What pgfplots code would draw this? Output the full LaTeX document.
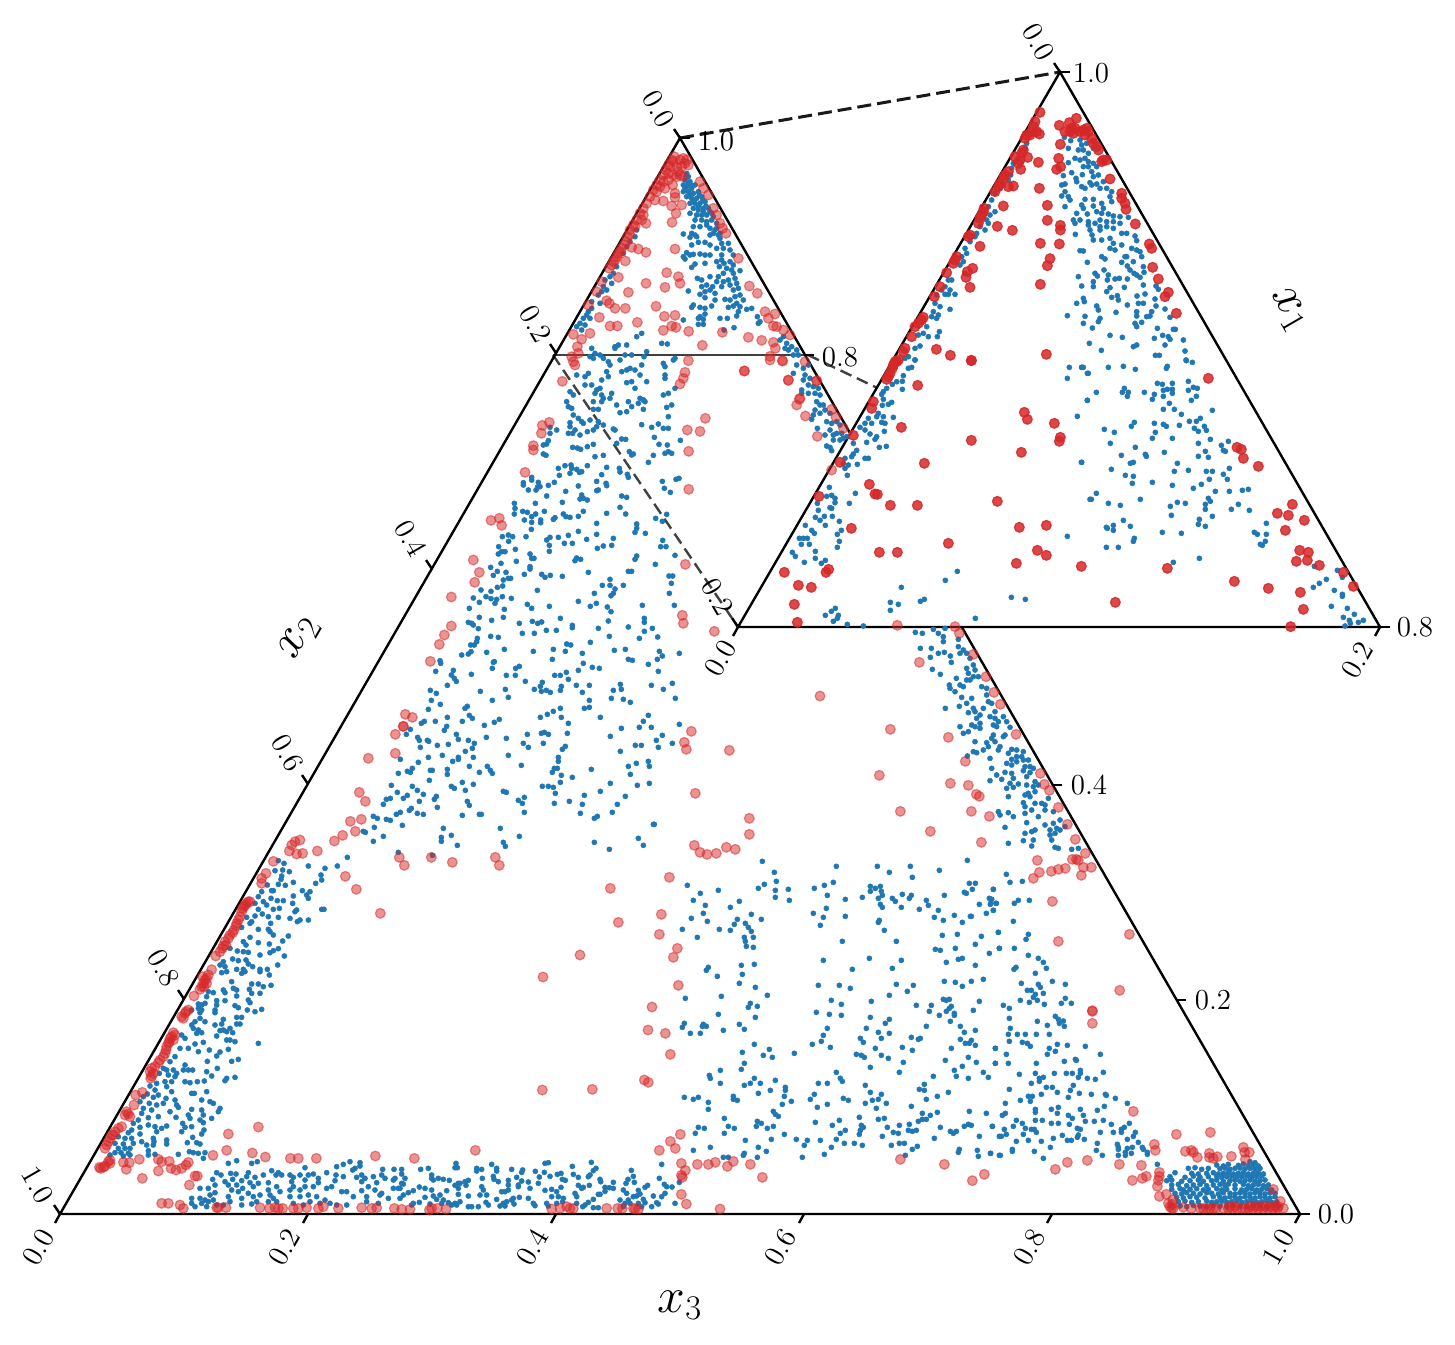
\documentclass[border=0pt]{standalone}
\usepackage{pgfplots}
\pgfplotsset{compat=1.18}
\definecolor{tabblue}{HTML}{1F77B4}
\definecolor{tabred}{HTML}{D62728}
% points are read off 3x crops of the picture: crop origin goes in read={x0}{y0}
\pgfplotsset{
  read/.style 2 args={x filter/.expression={x/3+#1}, y filter/.expression={y/3+#2}},
  bl/.style={only marks, mark=*, mark size=1.3pt, color=tabblue, mark options={line width=.2pt, draw=tabblue, fill=tabblue}},
  rd/.style={only marks, mark=*, mark size=2.45pt, color=tabred, mark options={draw=tabred, fill=tabred, line width=.6pt, fill opacity=.5, draw opacity=.5}},
  rdi/.style={only marks, mark=*, mark size=2.45pt, color=tabred, mark options={draw=tabred, fill=tabred, line width=.6pt, fill opacity=.85, draw opacity=.85}},
}
\newcommand\tk[4]{\draw[black,line width=1.2pt] (axis cs:#1,#2)--(axis cs:#3,#4);}
\newcommand\tl[4]{\node[rotate=#3,font=\fontsize{14.5}{17}\selectfont] at (axis cs:#1,#2) {#4};}
\begin{document}
\begin{tikzpicture}
\useasboundingbox (0,0) rectangle (727.5pt,672pt);
\begin{axis}[at={(0,0)},anchor=south west,scale only axis,width=727.5pt,height=672pt,
  xmin=0,xmax=1455,ymin=0,ymax=1344,y dir=reverse,hide axis,clip=false]

% ---- main triangle, blue
\addplot[bl,read={520}{60}] coordinates {(500,340)(505,350)(495,360)(510,365)(490,375)(500,380)(515,385)(525,375)(490,395)(505,395)(520,400)(535,395)(500,410)(515,415)(530,415)(545,410)(510,430)(525,430)(540,430)(555,425)(520,445)(535,450)(550,445)(565,445)(510,460)(530,465)(545,465)(560,465)(575,460)(525,480)(545,480)(560,485)(575,480)(590,490)(520,500)(540,500)(570,505)(585,510)(595,525)(490,522)(515,520)(525,525)(510,532)(530,530)(570,525)(600,535)(605,550)(535,547)(555,547)(515,555)(570,555)(610,565)(625,550)(590,565)(490,590)(500,578)(510,585)(520,583)(540,582)(555,585)(570,585)(630,570)(640,585)(605,585)(495,597)(525,612)(515,622)(555,610)(590,605)(605,600)(612,610)(630,605)(640,615)(598,620)(620,625)(635,630)(660,632)(610,640)(595,650)(570,650)(640,640)(532,655)(545,660)(590,665)(610,665)(625,660)(645,655)(650,670)(630,675)(605,680)(545,680)(560,675)(578,680)(505,693)(540,703)(555,695)(570,690)(585,700)(640,690)(655,685)(555,713)(585,720)(615,718)(630,720)(645,710)(660,705)(670,720)(650,730)(520,735)(515,742)(540,742)(555,745)(575,738)(625,742)(640,738)(660,740)(680,748)(695,745)(655,755)(650,768)(540,770)(555,762)(535,775)(550,778)(600,775)(622,775)(490,780)(535,793)(550,793)(712,770)(720,785)(642,803)(612,810)(365,820)(350,830)(715,790)
(498,350)(505,370)(512,375)(495,385)(510,405)(522,422)(538,405)(548,420)(535,440)(558,438)(570,455)(580,470)(550,455)(560,495)(590,505)(580,520)(600,520)
(350,510)(345,530)(330,545)(320,560)(310,580)(290,620)(280,640)(270,650)(255,660)(275,670)(250,680)(260,690)(245,695)(235,705)(215,725)(205,755)(215,745)(200,765)(190,775)(210,775)(180,790)(195,795)(170,800)(185,810)(240,730)
(285,860)(295,855)(320,855)(285,865)(215,865)(225,880)(240,885)(250,895)(210,890)(315,885)(335,885)(380,875)(372,890)(425,850)(442,852)(220,895)(265,905)(300,900)(270,915)(365,915)(430,910)(465,895)(460,900)(435,920)(330,925)(305,935)(320,930)(345,930)(360,945)(260,935)(205,940)(170,945)(195,950)(435,945)(435,955)(265,950)(245,960)(320,968)(335,965)(380,965)(215,975)(195,975)(150,995)(160,1005)(240,985)(230,990)(225,1000)(245,1005)(250,1015)(275,1000)(345,985)(430,1005)(445,1000)(465,985)(270,1015)(360,1015)(370,1020)
(780,840)(790,830)(800,850)(815,860)(830,870)(805,870)(795,865)(820,885)(835,885)};
\addplot[bl,read={730}{360}] coordinates {(190,40)(200,15)(220,25)(235,15)(225,45)(240,55)(220,60)(235,75)(250,80)(265,85)(215,90)(215,100)(235,100)(255,100)(270,105)(260,125)(280,135)(270,135)(255,150)(285,150)(250,165)(270,160)(300,160)(245,178)(290,185)(305,190)(320,185)(330,195)(262,205)(300,210)(285,225)(310,225)(320,220)(335,220)(350,230)(310,240)(330,240)(340,235)(290,258)(300,262)(305,272)};
\addplot[bl,read={380}{350}] coordinates {(560,155)(640,155)(665,155)(710,165)(745,155)(755,170)(775,160)(790,150)(795,155)(860,172)(875,165)(565,170)(575,175)(640,178)(655,178)(720,188)(740,185)(790,178)(580,195)(595,205)(605,215)(630,210)(610,220)(570,218)(570,230)(655,215)(650,230)(670,225)(785,224)(815,232)(835,222)(850,235)(865,235)(865,200)(700,237)(705,240)(530,240)(510,232)(565,250)(578,250)(585,240)(600,255)(622,245)(640,240)(510,250)(823,262)(901,271)(725,267)(737,268)(710,280)(505,272)(500,282)(490,285)(837,283)(862,285)(578,292)(592,294)(602,298)(622,290)(640,283)(748,305)(755,315)(760,312)(865,305)(855,310)(875,310)(820,316)(490,312)(498,316)(645,320)(670,316)(805,337)
(535,355)(555,347)(573,345)(575,355)(590,358)(605,365)(598,367)(622,347)(680,352)(718,355)(720,366)(742,373)(745,382)(538,376)(570,370)(665,374)(455,382)(455,390)(475,397)(430,398)(430,405)(505,406)(523,397)(595,408)(650,394)(678,400)(680,407)(847,394)(888,388)(897,385)(473,411)(480,410)(468,420)(445,420)(557,424)(650,422)(655,420)(853,415)(871,427)(500,438)(605,435)(610,445)(600,447)(622,450)(725,438)(740,442)(403,460)(405,475)(466,460)(547,457)(720,472)(428,484)(442,487)(403,492)(493,484)(610,484)(680,490)(737,492)(467,492)(455,500)(550,492)(558,500)(570,502)(595,499)(525,503)(520,508)(433,510)(455,517)(482,510)(482,518)(650,520)(827,505)(847,514)(860,493)(770,522)(770,535)(765,547)(796,550)(454,538)(595,544)(438,560)(367,560)(385,555)(398,560)(386,574)(510,562)(500,570)(535,562)(565,556)(650,553)(700,565)(620,568)(553,580)(577,580)(848,571)(356,590)(508,586)(670,588)(695,586)(652,595)(842,590)(858,590)(406,598)(508,604)(355,612)(365,605)(375,605)(450,612)(455,625)(462,625)(885,616)(770,618)(765,628)(590,624)(602,628)(585,632)(409,634)(363,640)(826,643)(332,652)(450,650)(450,657)(352,664)(378,667)(340,676)(745,664)(755,664)(625,667)(433,673)(485,673)(495,682)(511,676)(547,679)(867,678)(878,678)(385,685)(392,685)(370,690)(690,688)(874,700)(667,706)(690,706)(730,706)(368,708)(352,712)(705,717)(472,721)(303,720)(333,724)(700,730)(693,737)(643,730)(868,730)(280,744)(318,740)(333,746)(350,748)(345,760)(367,740)(394,745)(298,757)(595,754)(442,763)(455,775)(508,769)(631,769)(649,760)(682,771)(787,766)(883,766)(268,775)(373,778)(693,785)(298,802)(370,802)(541,805)(793,805)(793,817)(685,813)(265,817)(275,820)(280,825)(335,811)(418,820)(457,814)(473,820)(485,816)(577,826)(577,833)(745,831)(655,835)(817,835)(295,836)(499,841)(529,841)(793,844)(427,850)(463,850)(688,859)(833,861)(332,859)(355,862)(292,865)(290,875)(283,885)(272,885)(631,877)(778,865)(560,882)(572,885)};
\addplot[bl,read={340}{640}] coordinates {(365,45)(385,42)(393,35)(440,37)(300,62)(302,70)(493,28)(580,34)(640,28)(676,34)(727,40)(823,31)(856,28)(958,34)(1018,40)(952,58)(967,48)(637,58)(865,58)(877,61)(463,65)(460,67)(730,70)(925,73)(340,91)(287,94)(457,85)(527,85)(538,79)(757,82)(778,85)(715,91)(679,97)(955,94)(334,105)(394,103)(499,106)(526,106)(644,106)(661,106)(343,115)(349,124)(556,124)(685,118)(322,136)(607,127)(601,139)(664,139)(709,136)(748,136)(841,133)(934,136)(997,130)(271,151)(289,160)(421,154)(496,148)(583,148)(604,154)(619,151)(631,157)(661,151)(727,157)(820,151)(844,148)(970,148)(505,172)(274,181)(457,181)(748,181)(814,175)(850,178)(871,187)(1006,175)(301,193)(265,208)(375,205)(382,199)(661,205)(640,214)(622,223)(733,205)(748,202)(925,226)(601,232)(664,232)(781,232)(322,232)(388,226)(397,235)(478,238)(463,247)(685,250)(244,250)(253,244)(286,244)(367,244)(910,244)(433,256)(320,259)(313,271)(898,262)(934,262)(844,265)(1018,253)(211,268)(199,283)(349,283)(562,283)(604,280)(613,277)(625,283)(682,280)(811,289)(967,286)(233,292)(238,301)(262,301)(266,304)(355,298)(385,301)(439,292)(499,295)(949,301)(403,310)(292,316)(325,313)(550,310)(610,310)(886,316)(904,316)(997,310)(241,322)(397,325)(565,322)(676,319)(667,328)(955,322)(376,334)(841,334)(307,346)(265,352)(400,352)(505,346)(355,352)(355,358)(181,358)(338,364)(655,352)(655,364)(235,367)(889,370)(925,364)(388,379)(544,376)(442,379)(865,379)(928,379)(754,388)(217,385)(271,391)(277,391)(322,388)(202,394)(211,397)(175,400)(418,397)(451,391)(457,400)(322,403)(637,397)(643,385)(652,385)(871,403)(664,406)(697,412)(268,421)(367,427)(661,427)(811,430)(928,430)(154,436)(217,439)(334,439)(343,445)(400,433)(892,436)(607,439)(625,439)(640,442)(232,451)(376,451)(172,457)(250,463)(490,454)(499,457)(781,454)(646,460)(202,466)(190,475)(289,469)(283,478)(553,472)(535,481)(733,466)(856,469)(151,475)(139,478)(238,484)(382,484)(130,493)(388,496)(547,490)(643,490)(688,484)(727,493)(832,493)(292,502)(214,505)(208,511)(181,517)(169,523)(232,520)(250,523)(367,526)(418,523)(424,523)(553,517)(721,520)(817,517)(100,529)(112,535)(139,538)(151,541)(772,529)(763,535)(187,556)(103,562)(940,553)(943,553)(310,565)(481,565)(70,574)(76,577)(130,589)(334,586)(304,592)(538,589)(895,595)(100,604)(304,604)(490,607)(763,607)(352,616)(496,619)(910,616)(808,628)(175,637)(22,652)(277,646)};
\addplot[bl,read={60}{840}] coordinates {(655,62)(672,70)(645,92)(668,90)(688,95)(745,78)(832,78)(795,85)(783,105)(785,120)(767,130)(665,108)(663,118)(700,127)(622,135)(655,133)(676,136)(640,152)(635,152)(605,155)(595,170)(727,152)(750,155)(740,165)(700,168)(745,175)(633,175)(652,182)(670,182)(610,185)(698,190)(585,190)(620,195)(640,208)(658,205)(595,208)(785,208)(792,208)(710,210)(705,215)(607,222)(655,232)(625,230)(585,228)(690,235)(560,232)(745,240)(720,240)(712,245)(570,250)(575,245)(632,250)(545,262)(595,268)(625,268)(630,275)(640,285)(685,288)(570,292)(550,305)(558,315)(595,308)(628,312)(668,303)(510,325)(655,326)(640,332)(630,338)(532,333)(550,335)(565,337)(600,345)(673,348)(535,362)(518,357)(558,360)(565,372)(578,380)(653,375)(490,365)(480,375)(495,380)(530,388)(550,388)(600,388)(622,388)(485,398)(500,395)(545,400)(555,395)(600,395)(628,405)(515,425)(575,432)(595,432)(610,440)(633,436)(490,450)(495,458)(520,445)(530,450)(568,448)(575,460)(600,460)(445,455)(460,458)(440,470)(470,482)(495,482)(530,468)(415,492)(425,495)(435,490)(565,480)(570,488)(470,495)(525,497)(535,503)(415,505)(425,510)(465,510)(465,518)(562,510)(585,515)(605,508)(395,510)(420,518)(530,532)(545,532)(435,545)(420,535)(405,545)(395,555)(490,538)(530,552)(540,552)(465,555)(485,552)(400,565)(415,570)(510,565)(490,570)(480,572)(500,575)(518,578)(410,580)(425,578)(470,588)(365,585)(375,595)(500,600)(510,600)(525,605)(430,607)(405,612)(595,610)(360,625)(385,625)(448,630)(505,628)(415,635)(480,636)(470,648)(345,650)(330,665)(375,675)(385,690)(398,690)(370,690)(442,664)(515,664)(535,658)(310,685)(320,690)(340,690)(350,700)(298,700)(325,705)(345,710)(440,695)(472,685)(375,725)(390,728)(412,725)(433,723)(455,708)(500,715)(525,712)(495,722)(290,730)(315,725)(335,725)(270,738)(320,740)(335,755)(440,755)(285,750)(262,762)(295,765)(395,760)(403,760)(250,770)(280,772)(318,775)(345,780)(425,780)(450,785)(460,790)(240,785)(268,790)(290,795)(310,790)(350,795)(355,802)(395,808)(480,805)(475,815)(425,810)(250,805)(275,810)(330,815)(430,825)(245,820)(295,830)(265,833)(385,825)(390,835)(348,832)(455,835)(420,840)(430,848)(235,840)(220,850)(265,855)(285,860)(320,858)(305,865)(368,850)(375,862)(395,860)(240,862)(215,870)(290,875)(365,875)(432,870)(205,878)(240,882)(425,882)(175,890)(195,895)(215,895)(280,895)(398,892)(320,900)(165,910)(190,912)(220,910)(245,905)(282,905)(382,908)(410,908)(420,912)(320,912)(175,925)(195,925)(210,925)(260,915)(280,915)(165,938)(183,938)(205,940)(265,932)(388,935)(400,938)(415,940)(435,938)(150,945)(190,948)(210,945)(355,943)(265,945)(285,943)(430,955)
(530,962)(505,970)(575,970)(592,965)(470,998)(655,998)(635,992)(735,983)(830,980)(850,973)(870,965)(900,968)(900,978)(885,985)(878,990)(968,988)(1002,988)(512,1000)(528,1002)(565,998)(458,1018)(483,1005)(495,1025)(420,1045)(445,1045)(518,1018)(545,1022)(560,1010)(585,1012)(610,1005)(648,1005)(665,1005)(690,1005)(700,1012)(720,1005)(745,1005)(760,1002)(800,998)(775,1015)(828,1005)(850,1010)(890,1012)(905,1005)(915,1015)(940,1010)(965,1005)(1005,1015)(465,1035)(505,1035)(530,1035)(570,1028)(595,1030)(625,1028)(695,1025)(735,1020)(775,1028)(825,1022)(905,1025)(950,1028)(975,1015)(1000,1020)(395,1075)(395,1090)(405,1100)(420,1075)(425,1090)(435,1080)(450,1065)(445,1085)(440,1100)(460,1080)(465,1058)(470,1095)(490,1095)(510,1085)(505,1070)(515,1050)(535,1055)(548,1045)(545,1075)(565,1060)(580,1040)(580,1070)(590,1085)(600,1065)(625,1050)(630,1065)(650,1040)(660,1055)(650,1085)(640,1075)(690,1050)(700,1040)(720,1050)(735,1040)(760,1040)(690,1070)(700,1090)(720,1070)(745,1065)(770,1070)(795,1080)(730,1095)(800,1045)(815,1040)(845,1055)(860,1055)(880,1070)(810,1090)(860,1095)(830,1095)(920,1070)(905,1052)(925,1040)(945,1050)(965,1060)(985,1075)(955,1090)(960,1065)(920,1085)(1000,1045)(1015,1045)(545,1095)(575,1092)(625,1085)(750,1085)(780,1090)};
\addplot[bl,read={380}{1040}] coordinates {(65,388)(65,402)(122,388)(145,385)(228,370)(225,383)(232,383)(290,385)(290,393)(305,388)(335,373)(350,385)(350,393)(395,388)(428,390)(425,397)(466,394)(495,370)(505,368)(493,397)(478,411)(510,409)(532,403)(543,400)(577,379)(580,403)(595,412)(634,367)(648,385)(640,392)(625,410)(630,405)(754,391)(760,409)(744,418)(738,430)(763,427)(660,418)(662,425)(838,415)(898,427)(853,433)(860,440)(876,441)(803,436)(795,442)(700,427)(675,442)(688,443)(700,445)(75,415)(155,405)(155,415)(175,415)(190,418)(208,421)(160,420)(235,430)(240,430)(265,421)(255,425)(307,415)(340,409)(342,418)(355,425)(385,421)(410,412)(425,423)(445,426)(415,435)(415,440)(475,430)(543,442)(556,421)(547,418)(595,436)(610,442)(628,436)(605,445)(65,430)(70,432)(60,445)(118,441)(135,445)(155,450)(100,452)(85,458)(225,436)(235,445)(258,436)(305,440)(310,450)(385,435)(385,450)(365,455)(450,445)(495,451)(515,448)(530,455)(585,460)(660,463)(675,454)(730,450)(740,460)(775,451)(780,462)(855,460)(845,470)(885,490)(820,468)(70,465)(60,475)(135,472)(160,468)(180,465)(200,452)(235,463)(265,468)(300,465)(320,465)(350,478)(375,455)(400,475)(418,472)(445,475)(500,490)(515,470)(535,470)(550,475)(590,470)(640,478)(655,463)(720,480)(760,470)(770,468)(790,478)(830,488)(835,492)(100,490)(118,487)(170,478)(190,480)(185,490)(205,488)(225,490)(240,485)(318,487)(325,495)(380,485)(370,490)(402,492)(460,490)(465,497)(395,480)(530,490)(548,485)(590,490)(625,487)(615,495)(735,490)(750,490)(775,490)(795,488)(815,500)(95,495)(150,492)(215,495)(230,495)(265,500)(275,500)(295,500)(360,498)(375,498)(505,498)(608,500)(640,503)(655,503)(730,500)(785,500)(745,480)};
\addplot[bl,read={660}{840}] coordinates {(307,64)(343,97)(349,124)(313,133)(295,145)(346,151)(385,148)(346,172)(388,181)(82,136)(121,160)(175,151)(100,181)(136,196)(211,202)(238,184)(130,220)(94,235)(142,244)(232,238)(274,223)(304,238)(223,253)(256,250)(265,262)(274,274)(67,268)(178,268)(211,271)(112,292)(253,292)(280,292)(256,304)(259,319)(280,322)(529,79)(652,79)(751,79)(688,97)(757,112)(838,91)(922,61)(520,127)(493,136)(463,145)(631,139)(661,139)(646,145)(631,154)(664,154)(502,166)(667,166)(556,178)(607,172)(655,175)(697,175)(706,184)(727,163)(748,175)(754,166)(799,181)(805,196)(853,166)(928,130)(946,130)(937,148)(913,157)(919,160)(1000,148)(661,193)(667,202)(724,202)(778,208)(835,211)(958,193)(988,175)(994,178)(991,193)(1009,190)(499,205)(460,220)(490,232)(556,229)(823,232)(883,226)(979,220)(1000,211)(934,229)(931,229)(850,241)(907,247)(658,241)(655,247)(481,256)(673,271)(1015,277)(847,286)(892,283)(964,289)(547,304)(709,304)(946,313)(826,328)(841,331)(886,325)(988,340)(1018,325)(490,361)(628,355)(724,361)(895,358)(907,355)(859,367)(946,376)(145,382)(139,391)(244,376)(283,373)(577,388)(697,385)(172,409)(247,403)(238,430)(286,442)(475,436)(538,436)(571,445)(709,433)(760,436)(853,424)(886,427)(907,439)(934,424)(970,418)(742,454)(184,469)(322,466)(76,475)(688,466)(514,481)(634,484)(544,493)(850,478)(859,481)(868,478)(958,484)(271,490)(292,499)(265,502)(769,496)(814,496)(874,499)(868,505)(808,514)(859,514)(940,511)(883,520)(883,526)(175,523)(469,517)(508,523)(544,526)(631,532)(286,532)(838,526)(688,538)(676,550)(871,544)(73,550)(67,562)(130,553)(127,559)(139,559)(238,553)(253,568)(190,571)(502,565)(619,565)(799,559)(901,559)(91,580)(121,580)(490,586)(655,577)(688,580)(913,577)(946,571)(601,595)(664,595)(754,592)(775,598)(781,595)(901,598)(934,601)(484,604)(610,607)(916,610)(928,610)(946,616)(283,613)(457,613)(511,622)(646,625)(727,622)(874,625)(1006,625)(328,628)(247,637)(403,640)(757,631)(310,646)(337,652)(589,643)(604,646)(613,652)(664,646)(685,655)(925,652)(856,661)(253,670)(730,667)(949,667)(1006,670)(244,688)(181,691)(631,682)(907,679)(883,691)(718,697)(970,697)(529,697)(148,706)(151,715)(889,709)(820,709)(985,712)(925,715)(283,715)(346,721)(541,715)(547,724)(181,730)(271,730)(301,730)(253,736)(475,730)(502,730)(616,736)(793,733)(376,742)(331,751)(376,751)(631,757)(778,748)(793,751)(865,757)(295,760)(463,763)(664,763)(373,769)(73,772)(115,772)(100,778)(220,769)(220,778)(232,781)(451,778)(550,775)(565,781)(655,778)(637,781)(799,778)(832,769)(145,787)(394,784)(367,793)(502,793)(616,790)(679,790)(472,802)(145,808)(649,805)(754,799)(340,814)(346,823)(355,829)(787,820)(832,817)(928,814)(979,820)(193,835)(598,832)(673,835)(655,838)(811,826)(799,838)(787,838)(775,844)(292,844)(304,850)(538,841)(466,847)(115,862)(133,865)(205,859)(223,865)(289,859)(322,865)(340,859)(517,856)(604,856)(610,862)(748,853)(718,856)(682,862)(841,862)(925,853)(913,859)(934,856)(997,859)(556,871)(601,871)(700,877)(745,871)(757,874)(769,871)(715,880)(871,874)(889,874)(880,880)(106,880)(193,880)(373,883)(541,880)(598,883)(667,889)(958,889)(1018,889)(256,901)(334,898)(409,898)(442,901)(481,901)(529,898)(823,895)(433,916)(553,910)(583,910)(607,916)(694,916)(718,910)(733,910)(151,922)(295,922)(514,922)(772,919)(757,928)(100,931)(319,934)(898,928)(895,937)(952,931)(493,943)(991,940)(1018,946)(736,946)(250,946)(253,940)(190,952)(205,952)(292,952)(427,952)(955,949)(5,973)};
\addplot[bl,read={860}{620}] coordinates {(166,37)(187,40)(220,28)(235,40)(250,50)(250,65)(295,58)(255,25)(295,80)(181,85)(214,85)(211,112)(235,100)(253,97)(271,108)(274,127)(300,100)(310,90)(320,100)(330,115)(217,148)(241,163)(320,145)(340,135)(345,150)(325,160)(355,170)(340,170)(289,175)(320,180)(330,180)(268,195)(270,205)(300,195)(285,215)(310,200)(365,200)(380,205)(380,225)(305,232)(335,235)(320,250)(385,245)(395,250)(298,259)(256,265)(340,265)(345,275)(370,265)(325,278)(405,275)(360,285)(390,290)(405,295)(430,290)(350,295)(415,305)(440,305)(300,320)(335,315)(345,320)(360,325)(400,315)(410,320)(450,322)(310,340)(325,335)(360,310)(435,345)(400,345)(395,355)(345,365)(380,368)(405,365)(430,350)(420,380)(385,380)(340,395)(350,398)(370,390)(415,390)(455,388)(470,390)(490,395)(322,408)(445,400)(470,410)(485,410)(390,415)(455,418)(490,420)(505,420)(440,430)(455,435)(470,425)(395,445)(495,440)(510,440)(520,445)(435,457)(455,460)(490,452)(510,458)(410,465)(425,478)(390,482)(460,475)(500,470)(525,485)(535,495)(450,490)(475,492)(460,502)(440,505)(500,495)(520,500)(505,520)(525,515)(445,530)(495,525)(510,530)(565,535)(490,548)(495,560)(525,550)(545,550)(515,570)(555,555)(415,575)(420,585)(445,578)(460,590)(495,580)(535,590)(555,570)(580,575)(500,608)(435,622)(555,615)(580,610)(600,600)(590,625)(570,630)(495,640)(515,635)(525,630)(585,640)(600,630)(615,620)(570,645)(575,660)(490,662)(520,660)(445,670)(585,682)(595,685)(515,678)(635,688)(655,685)(439,763)};
\addplot[bl,read={990}{840}] coordinates {(60,127)(97,124)(10,148)(5,178)(2,190)(18,190)(73,190)(85,181)(118,181)(10,211)(70,244)(25,277)(115,283)(108,298)(28,325)(73,325)(115,346)(145,355)(160,367)(78,382)(72,388)(169,385)(136,400)(187,424)(94,430)(145,433)(226,433)(151,442)(112,451)(124,451)(160,460)(136,463)(130,472)(226,475)(91,481)(118,487)(142,481)(163,493)(214,490)(244,490)(40,496)(58,505)(196,529)(58,535)(142,544)(205,538)(220,543)(208,550)(223,559)(172,556)(61,565)(55,583)(82,583)(106,583)(139,583)(178,583)(58,604)(97,607)(112,610)(121,619)(202,613)(232,616)(286,619)(16,625)(178,625)(196,634)(172,643)(49,643)(331,643)(16,670)(55,670)(139,670)(223,664)(256,658)(259,661)(136,700)(193,700)(229,700)(247,700)(271,691)(271,700)(88,703)(265,712)(340,697)(160,712)(148,715)(292,715)(316,718)(148,724)(124,730)(250,736)(169,742)(187,742)(58,748)(241,751)(202,757)(268,760)(304,763)(346,763)(349,766)(154,763)(127,769)(115,769)(235,772)(376,775)(91,781)(121,784)(46,790)(412,790)(136,808)(184,808)(205,802)(271,808)(343,799)(322,811)(202,820)(136,817)(46,820)(37,826)(235,826)(280,826)(247,835)(136,841)(79,841)(157,841)(286,844)(313,844)(340,841)(97,850)(184,850)(205,850)(238,853)(364,853)(418,850)(7,859)(70,859)(43,868)(106,865)(124,868)(133,868)(262,865)(271,868)(403,862)(394,868)(139,877)(331,877)(370,877)(394,877)(436,877)(100,883)(49,883)(34,889)(217,886)(265,885)(430,889)(190,895)(262,892)(283,898)(232,901)(244,901)(115,901)(79,904)(154,904)(412,898)(445,907)(322,910)(382,913)(181,922)(67,928)(67,934)(133,934)(319,931)(385,922)(412,925)(427,922)(457,922)(460,928)(472,937)(385,928)(406,937)(424,940)(2,940)(31,946)(337,946)(385,946)(406,946)(472,943)(160,955)(502,973)
(780,965)(795,968)(680,975)(700,978)(715,973)(745,976)(760,972)(775,978)(790,975)(805,978)(595,985)(615,983)(635,988)(655,985)(690,986)(705,984)(720,988)(735,985)(750,984)(765,987)(780,985)(795,988)(810,985)(555,998)(605,1000)(625,1002)(650,1000)(670,998)(685,1002)(700,1000)(715,997)(730,1002)(745,1000)(760,998)(775,1002)(790,1000)(805,998)(820,1002)(540,1010)(585,1012)(610,1008)(630,1012)(655,1010)(680,1008)(695,1012)(710,1010)(725,1008)(740,1012)(755,1010)(770,1008)(785,1012)(800,1010)(815,1008)(530,1022)(545,1020)(575,1024)(600,1022)(625,1020)(640,1024)(665,1022)(680,1020)(700,1024)(720,1022)(735,1020)(750,1024)(765,1022)(780,1020)(795,1024)(810,1022)(825,1020)(545,1035)(565,1033)(590,1037)(610,1035)(630,1033)(650,1037)(670,1035)(690,1033)(705,1037)(715,1032)(735,1035)(760,1033)(775,1037)(790,1035)(805,1033)(820,1037)(835,1035)(545,1048)(570,1046)(580,1050)(600,1048)(620,1046)(640,1050)(655,1048)(680,1046)(695,1050)(710,1048)(735,1046)(755,1050)(770,1048)(785,1046)(800,1050)(815,1048)(830,1046)(845,1050)(555,1060)(575,1062)(590,1058)(610,1060)(630,1062)(650,1058)(665,1060)(685,1062)(700,1058)(720,1060)(735,1062)(750,1058)(765,1060)(780,1062)(795,1058)(810,1060)(825,1062)(840,1058)(855,1060)(560,1072)(580,1074)(600,1070)(620,1072)(645,1074)(670,1070)(690,1072)(705,1074)(720,1070)(735,1072)(750,1074)(765,1070)(780,1072)(795,1074)(810,1070)(825,1072)(840,1074)(855,1070)(565,1085)(585,1083)(605,1087)(625,1085)(650,1083)(665,1087)(680,1085)(695,1083)(710,1087)(725,1085)(740,1083)(755,1087)(770,1085)(785,1083)(800,1087)(815,1085)(830,1083)(845,1087)(860,1085)(570,1098)(590,1100)(610,1096)(630,1098)(650,1100)(670,1096)(690,1098)(710,1100)(730,1096)(750,1098)(770,1100)(790,1096)(810,1098)(830,1100)(850,1096)(865,1098)};

% ---- main triangle, red
\addplot[rd,read={520}{60}] coordinates {(463,290)(490,295)(500,300)(460,305)(450,320)(485,320)(445,340)(480,345)(490,350)(430,365)(458,375)(420,380)(410,395)(465,400)(540,365)(550,385)(565,405)(430,423)(405,420)(465,412)(455,438)(485,435)(580,445)(590,465)(370,465)(365,480)(378,490)(468,460)(456,487)(600,490)(608,505)(618,520)(345,500)(330,525)(318,545)(300,575)(290,590)(280,605)(335,562)(355,567)(378,577)(465,567)(316,603)(655,595)(268,625)(440,638)(475,650)(480,670)(295,652)(378,670)(435,682)(245,665)(325,697)(230,695)(688,678)(712,700)(260,722)(268,730)(205,735)(285,745)(316,745)(408,739)(735,755)(745,775)(765,762)(433,769)(465,766)(238,772)(352,787)(270,798)(292,798)(455,798)(468,802)(430,811)(506,814)(607,817)(760,798)(770,800)(790,810)(210,820)(160,823)(685,832)(725,841)(185,838)(172,860)(547,856)(760,847)(766,865)(810,825)(175,880)(155,890)(160,905)(165,915)(750,889)(787,902)(505,902)(855,905)(673,933)(495,937)(490,955)(805,961)(127,964)(480,972)(890,963)(840,1015)
(455,300)(445,315)(437,330)(430,345)(420,360)(410,375)(400,390)(390,410)(380,430)(370,445)(360,460)(350,480)(340,495)(330,510)(322,530)(312,555)(305,565)(295,580)(285,600)(275,615)(470,320)(475,335)(470,350)(480,300)(495,310)(505,315)(460,345)(445,360)(435,385)};
\addplot[rd,read={730}{360}] coordinates {(43,33)(120,0)(158,3)(175,60)(208,118)(200,135)(226,168)(262,229)(260,62)(305,148)(318,172)(340,205)(305,330)};
\addplot[rd,read={380}{350}] coordinates {(976,205)(922,240)(960,244)(926,304)(508,217)(487,226)(484,250)(460,287)(460,300)(435,367)(926,418)(333,511)(358,505)(365,526)(280,630)(298,667)(284,697)(916,643)(214,741)(907,796)(910,820)(214,828)(193,855)(178,883)(1003,844)};
\addplot[rd,read={340}{640}] coordinates {(271,64)(196,223)(217,232)(190,259)(190,259)(166,283)(166,340)(85,355)(1054,274)(1033,307)(1039,328)(1168,331)(1066,460)(58,457)(76,484)(64,538)(31,544)(46,574)(8,586)(1228,535)(1228,583)(1063,616)(1080,637)(1101,643)(1129,640)(1159,622)(1186,628)(178,652)(193,676)(274,652)(337,667)(466,652)(478,676)(988,712)(16,709)(49,748)(811,745)(121,820)(964,823)(835,847)(958,883)};
\addplot[rd,read={60}{840}] coordinates {(705,5)(695,15)(720,0)(823,3)(688,33)(710,42)(728,40)(772,33)(640,64)(618,100)(605,115)(605,130)(565,185)(555,195)(548,205)(540,230)(530,250)(522,270)(510,285)(495,305)(487,325)(467,348)(455,389)(440,415)(430,430)(425,440)(402,468)(378,515)(370,535)(340,578)(330,595)(325,610)(315,640)(300,660)(275,685)(275,708)(227,765)(247,757)(222,795)(205,822)(185,860)(165,875)(150,895)(140,915)(150,960)(150,970)(135,978)(118,982)(190,967)(208,968)(199,988)(238,958)(295,958)(305,965)(328,964)(333,985)(348,990)(365,985)(385,967)(378,975)(295,993)(247,1015)(595,861)(505,882)(500,931)(459,946)(577,939)(616,951)(691,955)(715,955)(769,955)(946,948)(405,1008)(412,1008)(388,1035)(305,1090)(325,1090)(360,1095)(370,1105)(475,1103)(470,1103)(498,1103)(600,1103)(628,1105)(645,1103)(655,1105)(668,1105)(700,1105)(715,1105)(740,1103)(775,1105)(790,1100)(835,1105)(905,1103)(935,1105)(950,1103)
(560,190)(570,185)(552,200)(545,215)(535,240)(528,258)(518,278)(505,295)(498,315)(490,318)(480,335)(445,405)(435,420)(432,440)(420,448)(440,430)(428,410)(375,520)(385,510)(365,530)(345,585)(335,590)(340,600)(328,605)(320,620)(318,630)(310,650)(295,668)(285,680)(270,695)(280,700)(272,715)(200,815)(195,825)(210,830)(175,865)(160,885)(145,905)(135,925)(155,885)(145,965)(130,982)(122,985)};
\addplot[rd,read={380}{1040}] coordinates {(103,355)(286,331)(487,150)(637,148)(793,120)(805,127)(901,283)(871,304)(886,325)(838,331)(904,370)(952,373)(985,373)(1006,367)(916,391)(904,406)(907,412)(904,463)(919,492)(43,505)(65,508)(90,508)(148,510)(155,505)(172,505)(198,508)(515,507)(540,505)(560,500)(570,505)(580,505)(680,505)(713,505)(727,505)(760,505)(765,507)(775,508)(1020,507)};
\addplot[rd,read={660}{840}] coordinates {(52,325)(40,352)(55,436)(16,580)(31,643)(202,979)(220,964)(271,973)(721,958)(853,973)(973,1003)(307,1012)(937,1022)};
\addplot[rd,read={860}{620}] coordinates {(178,127)(340,103)(378,170)(402,217)(421,253)(91,328)(265,352)(468,343)(316,424)(541,460)(58,466)(271,490)(325,496)(553,493)(568,511)(349,523)(358,529)(595,562)(121,574)(334,574)(388,589)(622,613)(211,634)(646,658)(364,667)(676,700)(532,721)(637,718)(649,718)(655,721)(670,742)(694,742)(538,757)(574,754)(595,748)(616,745)(664,766)(520,775)(112,16)(298,40)(285,20)};
\addplot[rd,read={990}{840}] coordinates {(187,184)(418,283)(205,304)(389,451)(430,814)(307,512)(307,514)(307,550)(559,883)(661,877)(493,913)(496,931)(586,934)(604,931)(610,937)(622,952)(658,940)(658,952)(670,955)(682,950)(724,949)(760,922)(764,937)(778,937)(766,958)(388,973)(454,976)(292,961)(232,967)(196,988)(427,1021)(457,1015)(469,1009)(508,997)(508,1009)(505,1021)(502,1039)(508,1069)(529,1063)(850,1048)(871,1084)(880,1105)(535,1090)(547,1093)(550,1105)(580,1102)(604,1105)(640,1105)(630,1105)(670,1105)(678,1105)(715,1105)(727,1105)(742,1105)(775,1105)(790,1105)(805,1105)(820,1105)(835,1105)(850,1105)(862,1105)(865,1100)(548,1080)
(650,1105)(660,1105)(700,1105)(755,1105)(765,1105)(780,1100)(795,1100)(810,1100)(825,1100)(840,1100)(855,1100)(545,1105)(540,1100)(720,1100)(735,1100)};
\addplot[rd] coordinates {(820,696)(543,977)(580,955)(652,1007)(648,1030)};

% ---- main triangle frame and zoom box
\addplot[black,line width=1.2pt] coordinates {(60,1214)(680,138)(1300,1214)(60,1214)};
\addplot[black,opacity=.75,line width=1.2pt] coordinates {(553,355)(808,355)};
\addplot[black,opacity=.75,line width=1.2pt,dash pattern=on 6pt off 3pt] coordinates {(553,355)(738,627)};
\addplot[black,opacity=.75,line width=1.2pt,dash pattern=on 6pt off 3pt] coordinates {(808,355)(1380,627)};
\addplot[black,opacity=.9,line width=1.5pt,dash pattern=on 7pt off 3pt] coordinates {(680,138)(1060,72)};
\tk{60}{1214}{55}{1223}\tk{308}{1214}{303}{1223}\tk{556}{1214}{551}{1223}\tk{804}{1214}{799}{1223}\tk{1052}{1214}{1047}{1223}\tk{1300}{1214}{1295}{1223}
\tk{1300}{1214}{1310}{1214}\tk{1176}{1000}{1186}{1000}\tk{1052}{785}{1062}{785}\tk{804}{355}{814}{355}\tk{680}{138}{690}{138}
\tk{60}{1214}{54}{1205}\tk{184}{999}{178}{990}\tk{308}{784}{302}{775}\tk{432}{569}{426}{560}\tk{556}{353}{550}{344}\tk{680}{138}{674}{129}
\tl{38}{1247}{60}{0.0}\tl{284}{1247}{60}{0.2}\tl{532}{1247}{60}{0.4}\tl{780}{1247}{60}{0.6}\tl{1029}{1247}{60}{0.8}\tl{1278}{1247}{60}{1.0}
\tl{1336}{1214}{0}{0.0}\tl{1213}{1000}{0}{0.2}\tl{1089}{785}{0}{0.4}\tl{840}{357}{0}{0.8}\tl{716}{141}{0}{1.0}
\tl{38}{1185}{-60}{1.0}\tl{164}{968}{-60}{0.8}\tl{288}{753}{-60}{0.6}\tl{411}{538}{-60}{0.4}\tl{536}{324}{-60}{0.2}\tl{659}{109}{-60}{0.0}
\node[rotate=60,font=\fontsize{26}{30}\selectfont] at (axis cs:300,638) {$x_2$};
\node[font=\fontsize{26}{30}\selectfont] at (axis cs:680,1305) {$x_3$};

% ---- inset
\addplot[draw=none,fill=white] coordinates {(738,627)(1060,72)(1380,627)} --cycle;
\addplot[bl,read={880}{60}] coordinates {(553,232)(572,242)(565,265)(600,240)(605,255)(620,250)(595,270)(610,270)(625,280)(640,265)(585,295)(600,300)(615,295)(565,308)(625,305)(640,310)(610,320)(625,320)(650,320)(635,335)(655,345)(640,350)(550,347)(575,338)(588,355)(590,365)(607,344)(630,368)(650,372)(670,365)(660,385)(680,385)(695,395)(555,372)(545,375)(615,385)(605,380)(635,375)(555,395)(545,408)(565,410)(570,420)(555,440)(615,418)(640,418)(605,435)(610,445)(665,430)(640,438)(690,410)(695,425)(670,445)(685,462)(650,455)(665,460)(622,462)(590,460)(700,468)(720,470)(720,490)(745,472)(580,480)(585,490)(600,480)(625,485)(625,495)(645,490)(660,480)(680,485)(700,485)(630,510)(660,500)(680,500)(700,505)(725,520)(740,520)(586,523)(636,525)(640,540)(660,510)(665,540)(690,535)(765,528)(770,542)(700,550)(725,555)(755,565)(770,570)(690,565)(705,570)(600,572)(610,573)(735,590)(740,590)(780,575)(785,590)(665,590)(675,597)(622,607)(725,607)(760,605)(742,618)(790,620)(750,630)(762,640)(770,645)(780,652)(792,637)(645,640)(672,630)(652,648)(685,645)(595,650)(705,657)(718,655)(742,657)(682,660)(640,665)(640,680)(605,678)(690,683)(680,695)(733,682)(790,675)(828,678)(835,688)(771,708)(795,702)(695,712)(712,707)(715,720)(825,717)(828,738)(610,715)(613,725)(590,730)(742,735)(650,738)(655,750)(775,730)(790,730)(770,755)(770,768)(815,755)(810,768)(800,770)(855,747)(562,767)(615,769)(660,775)(655,785)(708,757)(870,772)(610,790)(637,804)(765,790)(770,800)(785,787)(832,805)(880,808)(886,808)(690,826)(727,832)(823,835)(848,826)(865,830)(870,838)(910,840)(628,850)(770,855)(760,860)(855,855)(664,871)(915,873)(826,886)(838,886)(918,900)
(440,250)(435,265)(400,310)(395,325)(392,345)(385,360)(370,375)(360,385)(345,400)(335,420)(325,440)(345,455)(330,465)(320,480)(325,490)(300,500)(315,510)(290,520)(285,530)(270,545)(255,565)(260,580)(245,590)(250,605)(240,615)(255,640)(205,660)(215,660)(195,680)(185,690)(210,690)(225,703)(195,703)(205,703)(170,705)(165,730)(180,740)(210,748)(160,755)(175,765)(155,770)(170,775)(140,800)(130,820)(145,830)(115,825)(178,815)(172,830)(120,858)(105,865)(85,890)(75,895)(105,900)};
\addplot[bl,read={730}{360}] coordinates {(1018,22)(1012,55)(1055,22)(1060,22)(1072,40)(1072,121)(1042,169)(1054,307)(1012,529)(1080,418)(555,0)(545,22)(535,25)(520,47)(517,64)(500,65)(487,73)(470,85)(460,95)(455,103)(517,88)(460,118)(457,136)(475,133)(485,127)(445,160)(440,170)(460,170)(490,172)(415,175)(405,190)(425,190)(390,202)(455,187)(465,190)(405,210)(420,222)(463,214)(440,230)(435,238)(370,250)(410,247)(448,262)(469,259)(380,271)(370,282)(365,290)(405,295)(415,295)(345,295)(340,310)(355,315)(345,325)(382,313)(352,346)(298,382)(376,400)(290,409)(305,406)(315,415)(315,428)(262,430)(358,430)(300,443)(265,451)(305,445)(256,472)(283,469)(307,469)(270,481)(328,484)(286,496)(226,496)(245,511)(253,520)(334,511)(322,523)(208,535)(220,535)(232,535)(238,553)(214,553)(328,544)(322,562)(256,574)(187,577)(196,589)(256,595)(286,601)(274,610)(223,607)(682,634)(646,661)(514,682)(583,718)(571,724)(481,727)(505,733)(481,751)(844,712)(886,718)(316,745)(304,754)(286,766)(325,766)(322,775)(310,784)(736,775)(352,793)(400,798)};
\addplot[bl,read={1080}{360}] coordinates {(5,22)(25,40)(85,22)(130,19)(166,28)(262,19)(259,25)(319,2)(337,7)(325,64)(232,70)(247,73)(277,70)(133,85)(127,97)(145,97)(142,109)(49,97)(193,97)(223,103)(250,91)(262,88)(277,88)(277,100)(325,91)(340,82)(352,85)(349,109)(217,118)(250,109)(334,121)(22,121)(268,130)(250,148)(283,148)(397,151)(304,163)(223,190)(250,193)(259,199)(298,196)(328,184)(349,184)(361,175)(163,187)(154,199)(373,199)(379,211)(343,205)(355,214)(73,208)(103,217)(226,217)(217,235)(277,235)(391,238)(91,250)(355,250)(445,244)(424,256)(430,271)(436,274)(166,262)(376,274)(253,277)(196,283)(199,289)(124,286)(355,289)(385,292)(292,310)(160,307)(151,310)(5,307)(448,325)(94,328)(283,334)(325,331)(379,334)(397,334)(430,343)(136,346)(160,349)(442,358)(388,358)(157,370)(217,367)(277,376)(364,373)(340,385)(448,394)(406,394)(487,391)(505,388)(49,400)(34,418)(181,418)(385,415)(391,424)(292,427)(316,430)(85,430)(121,436)(271,439)(376,433)(376,448)(475,433)(454,448)(508,451)(274,466)(397,469)(358,478)(355,493)(130,481)(100,496)(79,502)(82,505)(100,511)(151,499)(376,499)(559,490)(247,517)(304,520)(523,517)(532,523)(559,523)(163,535)(160,544)(556,544)(541,553)(547,556)(79,562)(115,562)(358,595)(280,607)(703,619)(772,631)(787,652)(739,658)(718,670)(700,682)(763,691)(787,703)(787,709)(754,739)(802,745)(823,763)(790,772)(808,781)(850,781)(835,787)(811,790)(795,798)};
\addplot[rdi,read={880}{60}] coordinates {(480,157)(465,185)(460,200)(470,215)(478,222)(450,225)(435,235)(538,196)(568,188)(589,175)(570,215)(585,205)(580,220)(610,210)(625,215)(635,235)(655,270)(665,305)(680,300)(541,253)(536,295)(530,328)(542,320)(475,307)(430,270)(420,300)(443,292)(422,328)(375,345)(360,370)(385,380)(400,378)(690,357)(478,385)(725,400)(725,415)(735,430)(738,448)(370,438)(502,436)(310,455)(300,475)(502,481)(541,496)(541,510)(352,499)(397,511)(766,492)(270,525)(481,550)(538,552)(808,552)(815,565)(300,559)(230,590)(220,610)(510,596)(502,617)(278,625)(262,635)(200,638)(258,652)(818,622)(835,657)(180,680)(270,682)(481,673)(163,710)(855,710)(865,697)(889,760)(130,772)(115,790)(95,830)(75,865)(55,900)(169,868)(211,886)(274,901)(499,883)
(455,215)(440,225)(425,280)(415,310)(405,290)(385,335)(370,355)(355,380)(345,395)(312,445)(305,465)(295,490)(265,530)(225,600)(125,780)(105,800)(70,875)(50,905)(600,215)(615,225)(620,205)(640,250)(650,260)(575,205)(555,215)(670,300)};
\addplot[rdi,read={730}{360}] coordinates {(495,5)(490,15)(487,25)(480,40)(475,50)(470,58)(563,76)(430,125)(425,145)(370,226)(514,202)(724,241)(330,307)(583,310)(418,373)(435,402)(442,403)(267,409)(481,436)(562,436)(364,505)(448,577)(502,577)(655,550)(296,628)(288,637)(163,637)(205,676)(244,682)(193,733)(202,787)(724,2)(883,157)(892,178)(973,190)(991,232)(988,244)(874,277)(802,424)(868,502)(949,496)(922,571)(949,586)(859,610)(1054,619)};
\addplot[rdi,read={1080}{360}] coordinates {(385,55)(471,262)(484,268)(490,295)(535,319)(637,433)(592,460)(625,466)(673,481)(616,511)(659,571)(685,577)(649,604)(682,601)(718,616)(790,637)(820,679)(661,697)(565,685)(670,748)(463,664)(262,625)(106,727)(632,800)};
\addplot[black,line width=1.2pt] coordinates {(738,627)(1060,72)(1380,627)(738,627)};
\tk{1060}{72}{1070}{72}\tk{1060}{72}{1054}{63}\tk{1380}{627}{1390}{627}\tk{1380}{627}{1375}{636}\tk{738}{627}{732}{618}\tk{738}{627}{733}{636}
\tl{1091}{73}{0}{1.0}\tl{1039}{42}{-60}{0.0}\tl{1415}{627}{0}{0.8}\tl{1357}{660}{60}{0.2}\tl{720}{658}{60}{0.0}\tl{718}{597}{-60}{0.2}
\node[rotate=-60,font=\fontsize{26}{30}\selectfont] at (axis cs:1289,310) {$x_1$};
\end{axis}
\end{tikzpicture}
\end{document}
